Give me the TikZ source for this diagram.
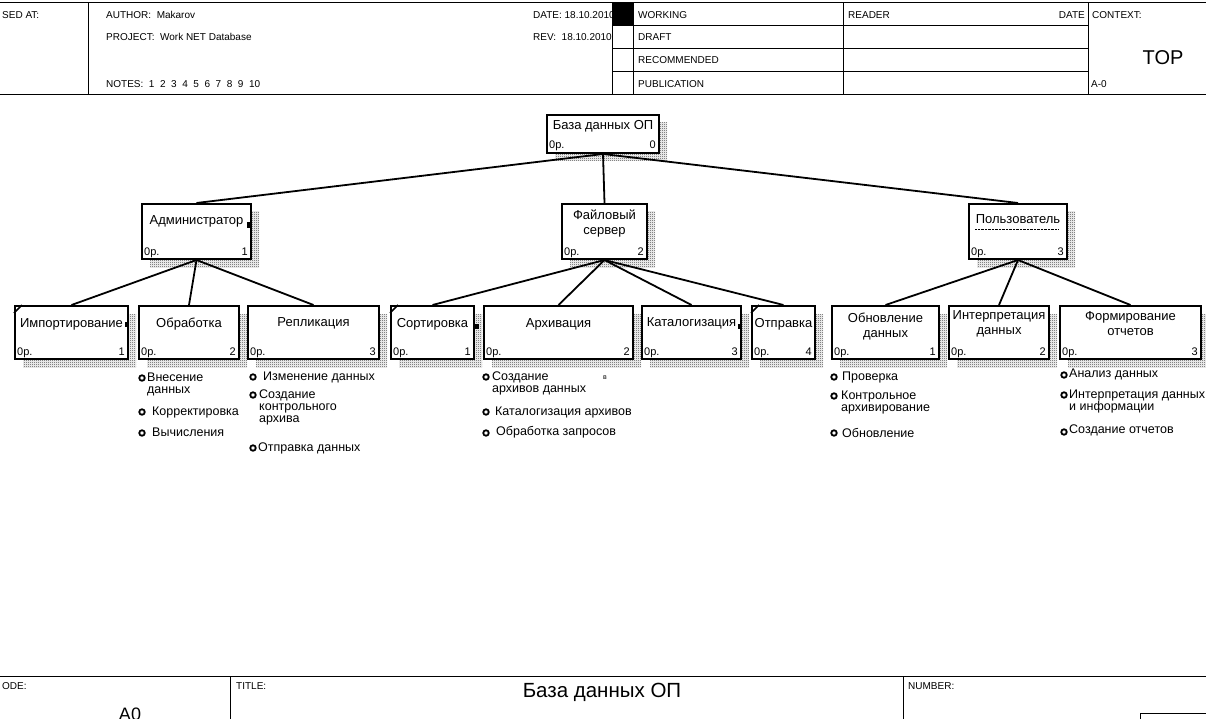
\documentclass[tikz,border=0pt]{standalone}
\usepackage{fontspec}
\setmainfont{Liberation Sans}
\usetikzlibrary{positioning,shadows,patterns}

\newcommand{\boxfont}{\fontsize{13}{15}\selectfont}
\newcommand{\listfont}{\fontsize{12.5}{12}\selectfont}
\newcommand{\hdrfont}{\fontsize{10}{12}\selectfont}

\pgfdeclarepatternformonly{dither}{\pgfpointorigin}{\pgfpoint{2pt}{2pt}}{\pgfpoint{2pt}{2pt}}{
    \pgfpathrectangle{\pgfpointorigin}{\pgfpoint{1pt}{1pt}}
    \pgfpathrectangle{\pgfpoint{1pt}{1pt}}{\pgfpoint{1pt}{1pt}}
    \pgfusepath{fill}
}

\tikzset{
    func/.style={draw, line width=2pt, fill=white, anchor=north west, inner sep=0pt,
        minimum width=#1, minimum height=53pt,
        general shadow={shadow xshift=8pt, shadow yshift=-8pt, draw=none,
            pattern=dither, pattern color=black!75}},
    ttl/.style={anchor=north, align=center, inner sep=0pt, font=\boxfont, yshift=-#1},
    ttl/.default=13pt,
    opno/.style={
        label={[anchor=base west, inner sep=0pt, xshift=3pt, yshift=5pt, font=\fontsize{11}{11}\selectfont]south west:0p.},
        label={[anchor=base east, inner sep=0pt, xshift=-4pt, yshift=5pt, font=\fontsize{11}{11}\selectfont]south east:#1}},
    conn/.style={line width=1.8pt},
    blt/.style={circle, draw, line width=1.8pt, fill=white, inner sep=0pt, minimum size=5.5pt},
    itm/.style={anchor=north west, align=left, inner sep=0pt, font=\listfont},
    hdr/.style={anchor=west, inner sep=0pt, font=\hdrfont},
    frame/.style={line width=1pt}
}

\begin{document}
\begin{tikzpicture}[x=1pt, y=-1pt]
    \useasboundingbox (0,0) rectangle (1206,719);

    % header
    \node[hdr] (used) at (2,15) {SED AT:};
    \node[hdr] (auth) at (106,15) {AUTHOR:\ \ Makarov};
    \node[hdr] (proj) at (106,37) {PROJECT:\ \ Work NET Database};
    \node[hdr] (notes) at (106,84) {NOTES:\ \ 1\ \ 2\ \ 3\ \ 4\ \ 5\ \ 6\ \ 7\ \ 8\ \ 9\ \ 10};
    \node[hdr] (date) at (533,15) {DATE: 18.10.2010};
    \node[hdr] (rev) at (533,37) {REV:\ \ 18.10.2010};
    \fill (612,3) rectangle (633,26);
    \filldraw[frame, fill=white] (612,26) rectangle (633,95);
    \draw[frame] (0,3) -- (1206,3);
    \draw[frame] (0,95) -- (1206,95);
    \draw[frame] (88,3) -- (88,95);
    \draw[frame] (612,3) -- (612,95);
    \draw[frame] (633,3) -- (633,95);
    \draw[frame] (843,3) -- (843,95);
    \draw[frame] (1088,3) -- (1088,95);
    \draw[frame] (612,26) -- (1088,26);
    \draw[frame] (612,49) -- (1088,49);
    \draw[frame] (612,72) -- (1088,72);
    \node[hdr] (wrk) at (638,15) {WORKING};
    \node[hdr] (drf) at (638,37) {DRAFT};
    \node[hdr] (rec) at (638,60) {RECOMMENDED};
    \node[hdr] (pub) at (638,84) {PUBLICATION};
    \node[hdr] (rdr) at (848,15) {READER};
    \node[hdr, anchor=east] (rdate) at (1085,15) {DATE};
    \node[hdr] (ctx) at (1092,15) {CONTEXT:};
    \node[font=\fontsize{20}{20}\selectfont] (top) at (1163,58) {TOP};
    \node[hdr] (node) at (1091,84) {A-0};

    % tree
    \node[func=112, minimum height=38pt, opno=0,
        label={[ttl=6pt]north:База данных ОП}] (db) at (546,114) {};

    \node[func=109, minimum height=55pt, opno=1,
        label={[ttl=12pt]north:Администратор}] (adm) at (141,203) {};
    \node[func=85, minimum height=55pt, opno=2,
        label={[ttl=7pt]north:Файловый\\сервер}] (fsv) at (561,203) {};
    \node[func=98, minimum height=55pt, opno=3,
        label={[ttl=11pt]north:Пользователь}] (usr) at (968,203) {};

    \node[func=113, opno=1, label={[ttl]north:Импортирование}] (imp) at (14,305) {};
    \node[func=100, opno=2, label={[ttl]north:Обработка}] (obr) at (138,305) {};
    \node[func=131, opno=3, label={[ttl=12pt]north:Репликация}] (rep) at (247,305) {};
    \node[func=83, opno=1, label={[ttl]north:Сортировка}] (srt) at (390,305) {};
    \node[func=149, opno=2, label={[ttl]north:Архивация}] (arh) at (483,305) {};
    \node[func=99, opno=3, label={[ttl=12pt]north:Каталогизация}] (ktl) at (641,305) {};
    \node[func=63, opno=4, label={[ttl]north:Отправка}] (otp) at (751,305) {};
    \node[func=107, opno=1, label={[ttl=8pt]north:Обновление\\данных}] (obn) at (831,305) {};
    \node[func=100, opno=2, label={[ttl=5pt]north:Интерпретация\\данных}] (int) at (948,305) {};
    \node[func=141, opno=3, label={[ttl=6pt]north:Формирование\\отчетов}] (frm) at (1059,305) {};

    % corner ticks and small marks
    \draw[line width=1.5pt] ([yshift=-8pt]imp.north west) -- ([xshift=8pt]imp.north west);
    \draw[line width=1.5pt] ([yshift=-8pt]srt.north west) -- ([xshift=8pt]srt.north west);
    \draw[line width=1.5pt] ([yshift=-8pt]otp.north west) -- ([xshift=8pt]otp.north west);
    \fill (247,222) rectangle (251,228);
    \fill (125,322) rectangle (129,327);
    \fill (475,324) rectangle (479,329);
    \fill (738,324) rectangle (742,329);
    \draw[densely dotted] (975,229) -- (1058,229);

    \draw[conn] (db.south) -- (adm.north);
    \draw[conn] (db.south) -- (fsv.north);
    \draw[conn] (db.south) -- (usr.north);
    \draw[conn] (adm.south) -- (imp.north);
    \draw[conn] (adm.south) -- (obr.north);
    \draw[conn] (adm.south) -- (rep.north);
    \draw[conn] (fsv.south) -- (srt.north);
    \draw[conn] (fsv.south) -- (arh.north);
    \draw[conn] (fsv.south) -- (ktl.north);
    \draw[conn] (fsv.south) -- (otp.north);
    \draw[conn] (usr.south) -- (obn.north);
    \draw[conn] (usr.south) -- (int.north);
    \draw[conn] (usr.south) -- (frm.north);

    % lists
    \node[blt] (o1p) at (142,378) {};
    \node[itm] (o1) at (147,373) {Внесение\\данных};
    \node[blt] (o2p) at (142,412) {};
    \node[itm] (o2) at (152,407) {Корректировка};
    \node[blt] (o3p) at (142,433) {};
    \node[itm] (o3) at (152,428) {Вычисления};

    \node[blt] (r1p) at (253,377) {};
    \node[itm] (r1) at (263,372) {Изменение данных};
    \node[blt] (r2p) at (253,395) {};
    \node[itm] (r2) at (259,390) {Создание\\контрольного\\архива};
    \node[blt] (r3p) at (253,448) {};
    \node[itm] (r3) at (258,443) {Отправка данных};

    \node[blt] (a1p) at (486,377) {};
    \node[itm] (a1) at (492,372) {Создание\\архивов данных};
    \node[font=\fontsize{7}{7}\selectfont, inner sep=0pt] (a1x) at (605,378) {в};
    \node[blt] (a2p) at (486,412) {};
    \node[itm] (a2) at (495,407) {Каталогизация архивов};
    \node[blt] (a3p) at (486,433) {};
    \node[itm] (a3) at (496,426) {Обработка запросов};

    \node[blt] (u1p) at (834,377) {};
    \node[itm] (u1) at (842,372) {Проверка};
    \node[blt] (u2p) at (834,396) {};
    \node[itm] (u2) at (841,391) {Контрольное\\архивирование};
    \node[blt] (u3p) at (834,433) {};
    \node[itm] (u3) at (842,428) {Обновление};

    \node[blt] (f1p) at (1064,375) {};
    \node[itm] (f1) at (1069,369) {Анализ данных};
    \node[blt] (f2p) at (1064,395) {};
    \node[itm] (f2) at (1069,390) {Интерпретация данных\\и информации};
    \node[blt] (f3p) at (1064,432) {};
    \node[itm] (f3) at (1069,425) {Создание отчетов};

    % footer
    \draw[frame] (0,676) -- (1206,676);
    \draw[frame] (230,676) -- (230,719);
    \draw[frame] (903,676) -- (903,719);
    \draw[frame] (1140,713) rectangle (1215,730);
    \node[hdr] (ode) at (2,686) {ODE:};
    \node[hdr] (tit) at (236,686) {TITLE:};
    \node[hdr] (num) at (908,686) {NUMBER:};
    \node[font=\fontsize{20.5}{20.5}\selectfont] (name) at (602,692) {База данных ОП};
    \node[font=\fontsize{18}{18}\selectfont] (a0) at (130,714) {A0};
\end{tikzpicture}
\end{document}
